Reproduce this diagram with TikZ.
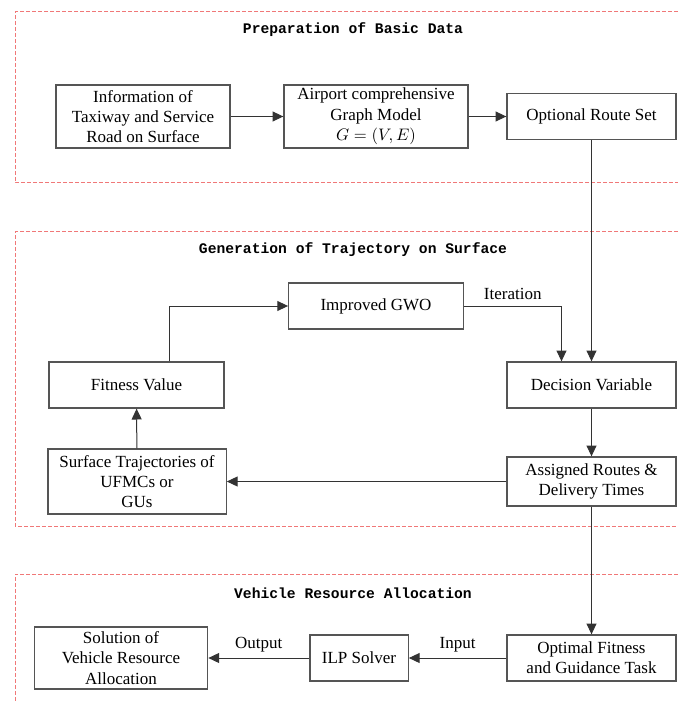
\documentclass[tikz,border=0pt]{standalone}
\usepackage{fontspec}
\setmainfont{Liberation Serif}
\newfontfamily\ttlfont{Liberation Mono}
\usetikzlibrary{arrows.meta}
\definecolor{zonered}{RGB}{240,120,120}
\definecolor{boxgray}{RGB}{85,85,85}
\tikzset{
>={Triangle[width=6pt,length=6.5pt]},
	blk/.style={
		rectangle,
		sharp corners,
		fill=white,
		draw=boxgray, line width=0.8pt,
		inner sep=0pt,
		minimum height=27.6pt,
		align=center,
		font=\fontsize{10.2}{12.2}\selectfont},
	zone/.style={
		draw=zonered, line width=0.6pt,
		dash pattern=on 2.4pt off 1.2pt},
	ztitle/.style={
		font=\ttlfont\bfseries\fontsize{8.8}{10}\selectfont},
	lnk/.style={
		draw=black!80, line width=0.6pt, ->},
	lbl/.style={
		font=\fontsize{10.2}{12.2}\selectfont}
}
\begin{document}
\begin{tikzpicture}[x=0.6pt, y=-0.6pt]
\useasboundingbox (0,0) rectangle (678,701);
\draw[zone] (678,12) -- (15,12) -- (15,183) -- (678,183);
\draw[zone] (678,232) -- (15,232) -- (15,526) -- (678,526);
\draw[zone] (678,574) -- (15,574) -- (15,705);
\node[ztitle] (t1) at (353,30) {Preparation of Basic Data};
\node[ztitle] (t2) at (353,250) {Generation of Trajectory on Surface};
\node[ztitle] (t3) at (353,593) {Vehicle Resource Allocation};

\node[blk, minimum width=104.4pt, minimum height=37.8pt] (info) at (143,116.5) {Information of\\Taxiway and Service\\Road on Surface};
\node[blk, minimum width=110.4pt, minimum height=37.8pt] (graph) at (376,116.5) {Airport comprehensive\\Graph Model\\$G=(V,E)$};
\node[blk, minimum width=101.4pt] (route) at (591.5,116.5) {Optional Route Set};

\node[blk, minimum width=104.7pt] (gwo) at (376,306) {Improved GWO};
\node[blk, minimum width=105pt] (fit) at (136.5,385) {Fitness Value};
\node[blk, minimum width=101.4pt] (dvar) at (591.5,385) {Decision Variable};
\node[blk, minimum width=101.4pt, minimum height=29.4pt] (assign) at (591.5,481.5) {Assigned Routes \&\\Delivery Times};
\node[blk, minimum width=107pt, minimum height=39pt] (traj) at (137,481.5) {Surface Trajectories of\\UFMCs or\\GUs};

\node[blk, minimum width=104pt, minimum height=37.2pt] (sol) at (121,658) {Solution of\\Vehicle Resource\\Allocation};
\node[blk, minimum width=59pt] (ilp) at (359,658) {ILP Solver};
\node[blk, minimum width=101.4pt] (task) at (591.5,658) {Optimal Fitness\\and Guidance Task};

\draw[lnk] (info) -- (graph);
\draw[lnk] (graph) -- (route);
\draw[lnk] (route) -- (dvar);
\draw[lnk] (gwo.east) -| node[lbl, pos=0.25, above]{Iteration} ([xshift=-18pt]dvar.north);
\draw[lnk] (dvar) -- (assign);
\draw[lnk] (assign) -- (traj);
\draw[lnk] (traj) -- (fit);
\draw[lnk] ([xshift=19.5pt]fit.north) |- (gwo.west);
\draw[lnk] (assign) -- (task);
\draw[lnk] (task) -- node[lbl, above]{Input} (ilp);
\draw[lnk] (ilp) -- node[lbl, above]{Output} (sol);
\end{tikzpicture}
\end{document}
